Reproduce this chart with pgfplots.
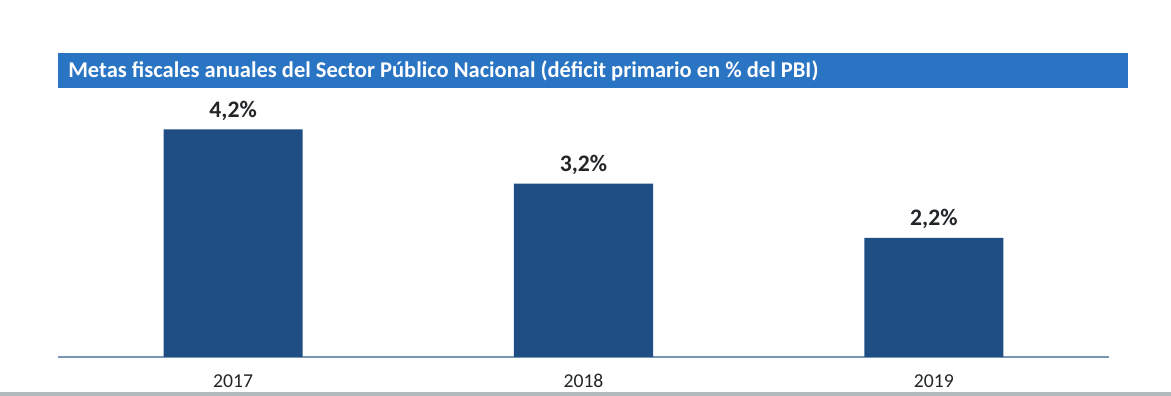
\documentclass[border=0pt]{standalone}
\usepackage{pgfplots}
\pgfplotsset{compat=1.18}
\usepackage{fontspec}
\setmainfont{Carlito}
\definecolor{titlebar}{RGB}{42,116,196}
\definecolor{barblue}{RGB}{30,78,132}
\definecolor{axisline}{RGB}{120,150,180}
\definecolor{labeltext}{RGB}{35,38,40}
\definecolor{scangray}{RGB}{178,186,190}
\begin{document}
\begin{tikzpicture}[x=0.6pt,y=0.6pt]
\path[use as bounding box] (0,0) rectangle (1171,396);
\fill[white] (0,0) rectangle (1171,396);
% title band
\fill[titlebar] (58,308) rectangle (1128,343);
\node[anchor=base west, inner sep=0, text=white, font=\fontsize{13.5pt}{15pt}\selectfont\bfseries] at (68,318) {Metas fiscales anuales del Sector Público Nacional (déficit primario en \% del PBI)};
% scan band
\fill[scangray] (0,0) rectangle (1171,4);
\begin{axis}[
  at={(34.8pt,23.4pt)}, anchor=south west,
  scale only axis,
  width=630.6pt, height=162.6pt,
  xmin=-0.5, xmax=2.5, ymin=0, ymax=5,
  axis x line=bottom, axis y line=none,
  axis line style={axisline, line width=0.8pt, -},
  x axis line style={-},
  xtick={0,1,2}, xticklabels={2017,2018,2019},
  major tick length=0pt,
  xticklabel style={anchor=base, yshift=-18.6pt, text=labeltext, font=\fontsize{11.8pt}{13pt}\selectfont},
  ytick=\empty,
  clip=false,
]
\addplot[ybar, bar width=83.4pt, fill=barblue, draw=none,
  point meta=explicit symbolic,
  nodes near coords,
  every node near coord/.append style={anchor=base, yshift=7.2pt, text=labeltext, font=\fontsize{14.2pt}{16pt}\selectfont\bfseries}]
  coordinates {(0,4.2)[4,2\%] (1,3.2)[3,2\%] (2,2.2)[2,2\%]};
\end{axis}
\end{tikzpicture}
\end{document}
